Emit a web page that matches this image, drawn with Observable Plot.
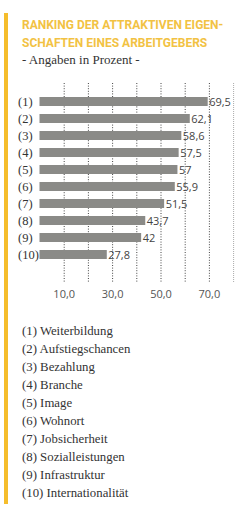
<!DOCTYPE html>
<html>
<head>
<meta charset="utf-8">
<script src="https://cdn.jsdelivr.net/npm/d3@7"></script>
<script src="https://cdn.jsdelivr.net/npm/@observablehq/plot@0.6"></script>
<style>
  html, body { margin: 0; padding: 0; background: #ffffff; }
  #page { position: relative; width: 251px; height: 508px; overflow: hidden; }
  #stripe { position: absolute; left: 4px; top: 13px; width: 4px; height: 491px; background: #f5bd2c; }
  #title { position: absolute; left: 22px; top: 16px; font-family: Roboto, sans-serif; font-weight: 700;
           font-size: 12px; line-height: 18px; color: #f2c243; white-space: nowrap; }
  #subtitle { position: absolute; left: 22px; top: 51px; font-family: "Liberation Serif", serif;
              font-size: 13px; line-height: 18px; color: #333; white-space: nowrap; }
  #chart { position: absolute; left: 0; top: 70px; }
  #legend { position: absolute; left: 22px; top: 322px; font-family: "Liberation Serif", serif;
            font-size: 12.8px; line-height: 18px; color: #333; white-space: nowrap; }
</style>
</head>
<body>
<div id="page">
  <div id="stripe"></div>
  <div id="title"></div>
  <div id="subtitle"></div>
  <div id="chart"></div>
  <div id="legend"></div>
</div>
<script>
const titleLines = ["RANKING DER ATTRAKTIVEN EIGEN-", "SCHAFTEN EINES ARBEITGEBERS"];
const subtitle = "- Angaben in Prozent -";
const codes = ["(1)", "(2)", "(3)", "(4)", "(5)", "(6)", "(7)", "(8)", "(9)", "(10)"];
const names = ["Weiterbildung", "Aufstiegschancen", "Bezahlung", "Branche", "Image",
               "Wohnort", "Jobsicherheit", "Sozialleistungen", "Infrastruktur", "Internationalität"];
const values = [69.5, 62.1, 58.6, 57.5, 57, 55.9, 51.5, 43.7, 42, 27.8];
const valueLabels = ["69,5", "62,1", "58,6", "57,5", "57", "55,9", "51,5", "43,7", "42", "27,8"];
const gridValues = [10, 20, 30, 40, 50, 60, 70];
const lastGrid = [80];
const tickValues = [10, 30, 50, 70];

document.getElementById("title").innerHTML = titleLines.join("<br>");
document.getElementById("subtitle").textContent = subtitle;
document.getElementById("legend").innerHTML = codes.map((c, i) => c + " " + names[i]).join("<br>");

const data = codes.map((c, i) => ({code: c, value: values[i], label: valueLabels[i]}));

const chart = Plot.plot({
  width: 251,
  height: 240,
  marginTop: 13,
  marginBottom: 28,
  marginLeft: 39.5,
  marginRight: 10,
  style: {background: "transparent", overflow: "visible"},
  x: {domain: [0, 80], range: [39.5, 233.1], label: null},
  y: {type: "band", domain: codes, range: [14.05, 202.4], padding: 0.5, label: null},
  marks: [
    Plot.ruleX(gridValues, {stroke: "#444", strokeWidth: 1, strokeDasharray: "1,1.6"}),
    Plot.ruleX(lastGrid, {stroke: "#aaa", strokeWidth: 1, strokeDasharray: "1,1"}),
    Plot.barX(data, {x: "value", y: "code", fill: "#8a8a87"}),
    Plot.text(data, {x: "value", y: "code", text: "label", textAnchor: "start", dx: 1,
      fill: "#444", fontSize: 11, fontFamily: "'Open Sans', sans-serif"}),
    Plot.axisX({anchor: "bottom", ticks: tickValues, tickSize: 0, tickPadding: 8, label: null,
      tickFormat: d => d.toFixed(1).replace(".", ","),
      fontSize: 11, fontFamily: "'Open Sans', sans-serif", fill: "#555"}),
    Plot.axisY({anchor: "left", tickSize: 0, tickPadding: 22, textAnchor: "start", label: null,
      fontSize: 12.5, fontFamily: "'Liberation Serif', serif", fill: "#333"})
  ]
});
document.getElementById("chart").appendChild(chart);
</script>
</body>
</html>
